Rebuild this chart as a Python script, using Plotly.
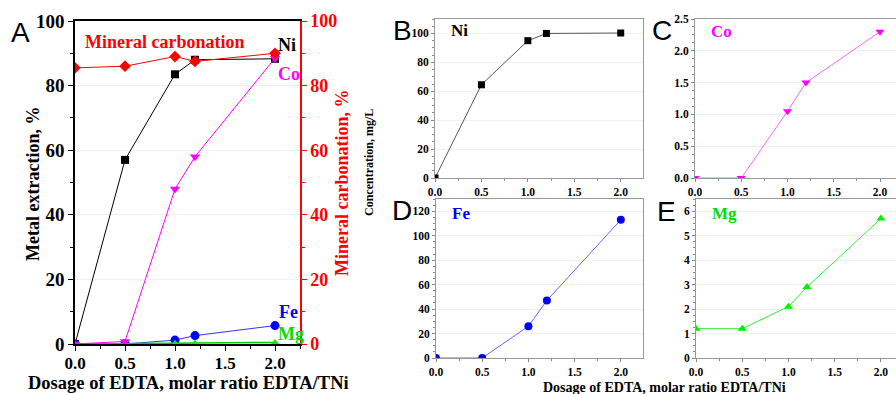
import plotly.graph_objects as go

# ---------------- data ----------------
dosage = [0.0, 0.5, 1.0, 1.2, 2.0]

# Panel A: metal extraction, % (left axis)
ni_ext = [0.0, 57.0, 83.5, 88.0, 88.3]
co_ext = [0.0, 0.8, 48.0, 58.0, 88.5]
fe_ext = [0.0, 0.0, 1.2, 2.6, 5.7]
mg_ext = [0.0, 0.0, 0.2, 0.3, 0.5]
# Panel A: mineral carbonation, % (right axis)
carbonation = [85.5, 86.0, 89.0, 87.5, 90.0]

# Panels B-E: concentration, mg/L
ni_conc = [0.0, 64.5, 95.0, 100.0, 100.3]
co_conc = [0.0, 0.0, 1.05, 1.5, 2.3]
fe_conc = [0.0, 0.0, 26.0, 47.0, 113.0]
mg_conc = [1.2, 1.2, 2.1, 2.9, 5.7]

x_ticks = [0.0, 0.5, 1.0, 1.5, 2.0]
x_tick_text = ["0.0", "0.5", "1.0", "1.5", "2.0"]

W, H = 896, 394
TF = "Liberation Serif"


def dx(a, b):
    return [a / W, min(b / W, 1.0)]


def dy(top, bot):
    return [1 - bot / H, 1 - top / H]


fig = go.Figure()

# ---------- Panel A ----------
fig.add_trace(go.Scatter(x=dosage, y=ni_ext, mode="lines+markers", xaxis="x", yaxis="y",
                         line=dict(color="black", width=1),
                         marker=dict(symbol="square", size=8, color="black")))
fig.add_trace(go.Scatter(x=dosage, y=fe_ext, mode="lines+markers", xaxis="x", yaxis="y",
                         line=dict(color="#3333ff", width=1),
                         marker=dict(symbol="circle", size=9, color="#0000ff")))
fig.add_trace(go.Scatter(x=dosage, y=mg_ext, mode="lines+markers", xaxis="x", yaxis="y",
                         line=dict(color="#00cc00", width=1.5),
                         marker=dict(symbol="triangle-up", size=7, color="#00ee00")))
fig.add_trace(go.Scatter(x=dosage, y=co_ext, mode="lines+markers", xaxis="x", yaxis="y",
                         line=dict(color="#ff00ff", width=1),
                         marker=dict(symbol="triangle-down", size=9, color="#ff00ff")))
fig.add_trace(go.Scatter(x=dosage, y=carbonation, mode="lines+markers", xaxis="x", yaxis="y2",
                         line=dict(color="#ff0000", width=1),
                         marker=dict(symbol="diamond", size=9, color="#ff0000")))

# ---------- Panels B-E ----------
small = [
    ("x2", "y3", ni_conc, "black", "#555555", "square", 7),
    ("x3", "y4", co_conc, "#ff00ff", "#ff66ff", "triangle-down", 8),
    ("x4", "y5", fe_conc, "#0000ff", "#6666ff", "circle", 8),
    ("x5", "y6", mg_conc, "#00ee00", "#33ee33", "triangle-up", 8),
]
for xa, ya, vals, mc, lc, sym, sz in small:
    fig.add_trace(go.Scatter(x=dosage, y=vals, mode="lines+markers", xaxis=xa, yaxis=ya,
                             line=dict(color=lc, width=1),
                             marker=dict(symbol=sym, size=sz, color=mc)))

big_tick = dict(family=TF, size=19, color="black", weight="bold")
bigx_tick = dict(family=TF, size=17, color="black", weight="bold")
small_tick = dict(family=TF, size=11.5, color="black", weight="bold")
grid = "#f0f0f0"

layout = dict(
    width=W, height=H, margin=dict(l=0, r=0, t=0, b=0, autoexpand=False),
    paper_bgcolor="white", plot_bgcolor="white", showlegend=False,
    xaxis=dict(domain=dx(75, 300), anchor="y", range=[0, 2.25], automargin=False,
               tickvals=x_ticks, ticktext=x_tick_text, ticks="outside", ticklen=5,
               ticklabelstandoff=-2,
               tickcolor="black", linecolor="black", linewidth=1.5, mirror=True,
               showgrid=False, zeroline=False, tickfont=bigx_tick,
               minor=dict(dtick=0.25, ticks="outside", ticklen=3, tickcolor="black")),
    yaxis=dict(domain=dy(21, 344), anchor="x", range=[0, 100], dtick=20, automargin=False,
               ticks="outside", ticklen=5, tickcolor="black", linecolor="black", linewidth=1.5,
               showgrid=True, gridcolor=grid, zeroline=False, tickfont=big_tick,
               minor=dict(dtick=10, ticks="outside", ticklen=3, tickcolor="black")),
    yaxis2=dict(overlaying="y", side="right", anchor="x", range=[0, 100], dtick=20,
                automargin=False,
                ticks="outside", ticklen=5, tickcolor="#ff0000", linecolor="#ff0000",
                linewidth=1.5, showgrid=False, zeroline=False,
                tickfont=dict(family=TF, size=18, color="#ff0000", weight="bold"),
                minor=dict(dtick=10, ticks="outside", ticklen=3, tickcolor="#ff0000")),
)

panels = [
    ("xaxis2", "yaxis3", "x2", "y3", dx(435, 643), dy(19, 178), [0, 2.24], [0, 110], 20, True),
    ("xaxis3", "yaxis4", "x3", "y4", dx(695, 896), dy(19, 178), [0, 2.173], [0, 2.5], 0.5, False),
    ("xaxis4", "yaxis5", "x4", "y5", dx(436, 643), dy(199, 358), [0, 2.24], [0, 130], 20, True),
    ("xaxis5", "yaxis6", "x5", "y6", dx(696, 896), dy(199, 358), [0, 2.163], [0, 6.5], 1, False),
]
for xk, yk, xn, yn, xd, yd, xr, yr, ydt, mir in panels:
    layout[xk] = dict(domain=xd, anchor=yn, range=xr, tickvals=x_ticks, ticktext=x_tick_text,
                      automargin=False,
                      ticks="outside", ticklen=3, tickcolor="#888888", linecolor="#999999",
                      linewidth=1, mirror=True, showgrid=False, zeroline=False,
                      tickfont=small_tick,
                      minor=dict(dtick=0.25, ticks="outside", ticklen=2, tickcolor="#888888"))
    layout[yk] = dict(domain=yd, anchor=xn, range=yr, dtick=ydt, ticks="outside", ticklen=3,
                      automargin=False,
                      tickcolor="#888888", linecolor="#999999", linewidth=1, mirror=mir,
                      showgrid=True, gridcolor=grid, zeroline=False, tickfont=small_tick,
                      minor=dict(dtick=ydt / 4, ticks="outside", ticklen=2, tickcolor="#888888"))
    if yk == "yaxis4":
        layout[yk]["tickformat"] = ".1f"

fig.update_layout(**layout)

ann = []
# in-panel labels for A
lab = dict(family=TF, size=18, weight="bold")
ann.append(dict(x=0.08, y=93.5, xref="x", yref="y", text="Mineral carbonation", showarrow=False,
                xanchor="left", font=dict(color="#ff0000", **lab)))
ann.append(dict(x=2.01, y=92.5, xref="x", yref="y", text="Ni", showarrow=False,
                xanchor="left", font=dict(color="black", **lab)))
ann.append(dict(x=2.01, y=83.5, xref="x", yref="y", text="Co", showarrow=False,
                xanchor="left", font=dict(color="#ff00ff", **lab)))
ann.append(dict(x=2.02, y=10, xref="x", yref="y", text="Fe", showarrow=False,
                xanchor="left", font=dict(color="#0000ff", **lab)))
ann.append(dict(x=2.01, y=3, xref="x", yref="y", text="Mg", showarrow=False,
                xanchor="left", font=dict(color="#00dd00", **lab)))
# panel element labels
el = dict(family=TF, size=17, weight="bold")
ann.append(dict(x=0.15, y=102, xref="x2", yref="y3", text="Ni", showarrow=False,
                xanchor="left", font=dict(color="black", **el)))
ann.append(dict(x=0.15, y=2.31, xref="x3", yref="y4", text="Co", showarrow=False,
                xanchor="left", font=dict(color="#ff00ff", **el)))
ann.append(dict(x=0.15, y=118, xref="x4", yref="y5", text="Fe", showarrow=False,
                xanchor="left", font=dict(color="#0000ff", **el)))
ann.append(dict(x=0.15, y=5.9, xref="x5", yref="y6", text="Mg", showarrow=False,
                xanchor="left", font=dict(color="#00dd00", **el)))
# panel letters
letter = dict(family="Liberation Sans, Arial, sans-serif", size=28, color="black")
for t, px, py in [("A", 20, 32), ("B", 402, 30), ("C", 662, 30), ("D", 402, 210), ("E", 666, 212)]:
    ann.append(dict(x=px / W, y=1 - py / H, xref="paper", yref="paper", text=t, showarrow=False,
                    xanchor="center", yanchor="middle", font=letter, borderpad=0))
# axis titles
ann.append(dict(x=188 / W, y=1 - 383 / H, xref="paper", yref="paper",
                text="Dosage of EDTA, molar ratio EDTA/TNi", showarrow=False,
                xanchor="center", yanchor="middle",
                font=dict(family=TF, size=18.5, color="black", weight="bold")))
ann.append(dict(x=33 / W, y=1 - 184 / H, xref="paper", yref="paper",
                text="Metal extraction, %", showarrow=False, textangle=-90,
                xanchor="center", yanchor="middle",
                font=dict(family=TF, size=18, color="black", weight="bold")))
ann.append(dict(x=342 / W, y=1 - 183 / H, xref="paper", yref="paper",
                text="Mineral carbonation, %", showarrow=False, textangle=-90,
                xanchor="center", yanchor="middle",
                font=dict(family=TF, size=18, color="#ff0000", weight="bold")))
ann.append(dict(x=664 / W, y=1 - 387 / H, xref="paper", yref="paper",
                text="Dosage of EDTA, molar ratio EDTA/TNi", showarrow=False,
                xanchor="center", yanchor="middle",
                font=dict(family=TF, size=14, color="black", weight="bold")))
ann.append(dict(x=369 / W, y=1 - 163 / H, xref="paper", yref="paper",
                text="Concentration, mg/L", showarrow=False, textangle=-90,
                xanchor="center", yanchor="middle",
                font=dict(family=TF, size=12, color="black", weight="bold")))
fig.update_layout(annotations=ann)

fig.write_html("out.html", config={"displayModeBar": False},
               post_script="document.body.style.margin='0';document.body.style.overflow='hidden';")
